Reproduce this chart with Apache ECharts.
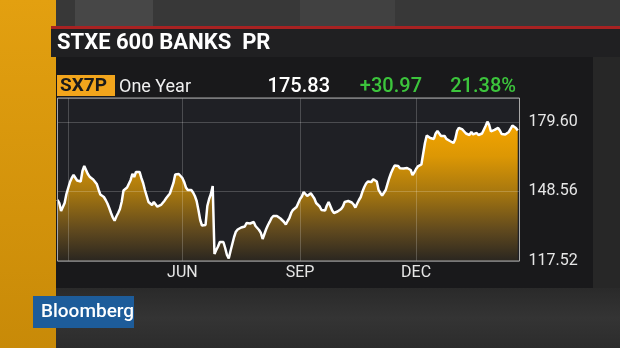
<!DOCTYPE html>
<html><head><meta charset="utf-8">
<script src="https://cdn.jsdelivr.net/npm/echarts@6/dist/echarts.min.js"></script>
<style>html,body{margin:0;padding:0;background:#2a2a2a;}#c{width:620px;height:348px;}</style>
</head><body><div id="c"></div>
<script>
// ---- data ----
const titleText = 'STXE 600 BANKS  PR';
const tickerText = 'SX7P';
const periodText = 'One Year';
const lastPrice = '175.83';
const netChange = '+30.97';
const pctChange = '21.38%';
const startDate = '2016-02-22';
const endDate = '2017-02-22';
const holidays = ['2016-03-25', '2016-03-28', '2016-12-26'];
const gridMonths = ['2016-03', '2016-06', '2016-09', '2016-12'];
const labelMonths = ['2016-06', '2016-09', '2016-12'];
const monthLabels = ['JUN', 'SEP', 'DEC'];
const yTicks = [117.52, 148.56, 179.60];
const yMax = 190.3;
const values = [
144.86,143.42,139.85,138.96,143.42,147.44,150.12,152.80,154.59,155.93,
155.26,153.47,153.38,153.03,157.71,159.95,159.28,156.38,155.17,155.04,
153.92,153.70,151.91,149.45,147.22,146.77,146.10,144.76,143.20,141.19,
138.96,136.95,135.52,137.39,138.96,140.74,144.00,149.01,149.90,150.35,
150.99,153.70,156.38,155.04,157.27,157.71,157.27,154.59,152.36,149.23,
146.55,143.87,142.98,142.53,143.87,143.42,141.77,142.53,142.53,142.98,
144.45,145.66,146.55,147.67,147.00,152.36,156.15,156.38,156.38,155.70,
154.59,152.80,150.35,149.23,148.78,149.23,148.11,146.55,144.32,140.30,
135.83,133.37,134.04,133.60,142.08,145.21,147.44,151.02,120.65,122.43,
123.98,126.01,126.90,126.01,123.33,120.20,118.64,121.99,125.11,128.24,
130.61,131.59,132.12,132.48,132.70,132.93,134.49,135.07,134.27,134.04,
134.94,133.15,133.60,131.36,130.03,127.35,129.58,131.81,133.60,135.07,
136.72,137.62,138.06,137.62,137.17,136.50,135.83,134.94,133.82,135.38,
136.72,138.96,140.30,140.07,141.64,142.53,145.21,146.33,148.34,147.89,
146.55,146.55,147.76,147.67,145.43,143.42,142.75,141.86,140.30,140.97,
140.07,142.31,143.87,142.98,140.07,138.96,139.09,139.63,140.07,140.74,
141.86,143.87,144.76,144.32,144.54,143.65,142.75,141.41,143.20,144.76,
146.10,148.56,150.57,152.13,153.03,152.58,152.80,154.01,154.45,153.03,
149.23,147.89,146.77,147.00,149.23,151.91,154.59,156.82,158.61,160.17,
160.84,159.95,158.92,159.37,158.83,159.50,159.06,159.28,158.16,155.93,
157.05,158.61,159.73,159.50,160.62,159.95,170.22,173.57,174.02,172.45,
172.68,172.01,174.46,175.58,174.46,173.35,174.24,173.35,172.01,171.56,
171.11,170.67,170.22,172.01,175.58,176.92,177.59,176.25,175.36,174.46,
173.79,173.79,175.13,174.02,174.69,174.69,173.79,174.24,174.46,175.13,
177.81,179.73,178.26,175.36,174.69,176.03,176.47,176.92,175.80,174.24,
174.24,174.02,173.79,175.13,176.47,178.04,178.04,176.92,175.83
];

// ---- build trading-day categories ----
function tradingDays(s, e, hol) {
  const out = [];
  const d = new Date(s + 'T00:00:00Z');
  const end = new Date(e + 'T00:00:00Z');
  while (d <= end) {
    const iso = d.toISOString().slice(0, 10);
    const wd = d.getUTCDay();
    if (wd !== 0 && wd !== 6 && hol.indexOf(iso) < 0) out.push(iso);
    d.setUTCDate(d.getUTCDate() + 1);
  }
  return out;
}
const categories = tradingDays(startDate, endDate, holidays);
function isMonthStart(i) {
  return i > 0 && categories[i].slice(0, 7) !== categories[i - 1].slice(0, 7);
}

const FONT = 'Roboto, "Liberation Sans", Arial, sans-serif';
const G = { left: 57.5, top: 98, width: 462, height: 163 };

const chart = echarts.init(document.getElementById('c'), null, { renderer: 'canvas' });
const rect = (x, y, w, h, fill, z) => ({ type: 'rect', z: z, silent: true, shape: { x, y, width: w, height: h }, style: { fill } });
const txt = (x, y, text, fill, font, align, z) => ({ type: 'text', z: z || 5, silent: true, style: { x, y, text, fill, font, align: align || 'left', verticalAlign: 'middle' } });

chart.setOption({
  backgroundColor: '#2b2b2b',
  animation: false,
  graphic: [
    rect(0, 0, 620, 27, '#383838', -20),
    rect(75, 0, 78, 27, '#474747', -19),
    rect(300, 0, 95, 27, '#414141', -19),
    { type: 'rect', z: -20, silent: true, shape: { x: 0, y: 288, width: 620, height: 60 },
      style: { fill: new echarts.graphic.LinearGradient(0, 0, 0, 1, [{ offset: 0, color: '#2a2a2a' }, { offset: 0.5, color: '#343434' }, { offset: 1, color: '#2c2c2c' }]) } },
    rect(593, 57, 27, 231, '#272727', -20),
    { type: 'rect', z: -15, silent: true, shape: { x: 0, y: 0, width: 56, height: 348 },
      style: { fill: new echarts.graphic.LinearGradient(0, 0, 0, 1, [{ offset: 0, color: '#e3a010' }, { offset: 1, color: '#c88a08' }]) } },
    rect(51, 26, 569, 3, '#a82222', -14),
    rect(51, 29, 569, 28, '#202022', -14),
    rect(56, 57, 537, 231, '#19191b', -14),
    txt(57, 43.5, titleText, '#ffffff', 'bold 22px ' + FONT),
    rect(57, 75, 58, 21, '#f2a51c', 1),
    txt(60, 86, tickerText, '#1b1b1b', 'bold 19px ' + FONT),
    txt(119, 87, periodText, '#f0f0f0', '18px ' + FONT),
    txt(330, 87, lastPrice, '#ffffff', '500 20px ' + FONT, 'right'),
    txt(422, 87, netChange, '#3cc43c', '500 20px ' + FONT, 'right'),
    txt(516, 87, pctChange, '#3cc43c', '500 20px ' + FONT, 'right'),
    rect(33, 296, 101, 32, '#1d5c9a', 1),
    txt(41, 312, 'Bloomberg', '#ffffff', '500 19px ' + FONT),
    { type: 'rect', z: 10, silent: true, shape: { x: G.left, y: G.top, width: G.width, height: G.height },
      style: { fill: 'none', stroke: '#a8a8a8', lineWidth: 1 } }
  ],
  grid: { left: G.left, top: G.top, width: G.width, height: G.height, show: true,
    backgroundColor: '#1f2025', borderWidth: 0 },
  xAxis: {
    type: 'category', data: categories, boundaryGap: false, z: 3,
    axisLine: { show: false }, axisTick: { show: false },
    axisLabel: {
      color: '#e6e6e6', fontSize: 16, fontFamily: FONT, margin: 4,
      interval: (i, v) => isMonthStart(i) && labelMonths.indexOf(v.slice(0, 7)) >= 0,
      formatter: v => monthLabels[labelMonths.indexOf(v.slice(0, 7))] || ''
    },
    splitLine: {
      show: true,
      interval: (i, v) => isMonthStart(i) && gridMonths.indexOf(v.slice(0, 7)) >= 0,
      lineStyle: { color: 'rgba(255,255,255,0.2)', width: 1 }
    }
  },
  yAxis: {
    type: 'value', position: 'right', min: yTicks[0], max: yMax,
    interval: yTicks[1] - yTicks[0], z: 3,
    axisLine: { show: false }, axisTick: { show: false },
    axisLabel: { color: '#e6e6e6', fontSize: 16, fontFamily: FONT, margin: 9,
      showMaxLabel: false, padding: [0, 0, 8, 0],
      formatter: v => v.toFixed(2) },
    splitLine: { show: true, lineStyle: { color: 'rgba(255,255,255,0.2)', width: 1 } }
  },
  series: [
    { type: 'line', data: values, symbol: 'none', z: 1, lineStyle: { width: 0 },
      areaStyle: { opacity: 1, color: new echarts.graphic.LinearGradient(0, 0, 0, 1, [
        { offset: 0, color: '#f5a600' },
        { offset: 0.25, color: '#dc9704' },
        { offset: 0.5, color: '#a8780f' },
        { offset: 0.78, color: '#60491e' },
        { offset: 1, color: '#2a2620' }]) } },
    { type: 'line', data: values, symbol: 'none', z: 5,
      lineStyle: { color: '#ffffff', width: 2.5 } }
  ]
});
</script>
</body></html>
